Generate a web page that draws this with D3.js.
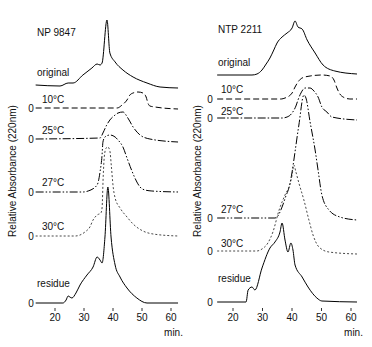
<!DOCTYPE html>
<html>
<head>
<meta charset="utf-8">
<script src="https://cdn.jsdelivr.net/npm/d3@7"></script>
<style>
  body { margin: 0; background: #fff; }
  text { font-family: "Liberation Sans", Arial, sans-serif; font-size: 10px; fill: #111; }
</style>
</head>
<body>
<svg id="chart" width="372" height="347"></svg>
<script>
// sample names and trace labels
let samples = ["NP 9847", "NTP 2211"]
let traces = ["original", "10°C", "25°C", "27°C", "30°C", "residue"]
let xTicks = [20, 30, 40, 50, 60]

// stacking offsets (absorbance units) of each trace baseline
let npOffsets = [215, 195, 164, 111, 67, 0]
let ntpOffsets = [228, 204, 185, 85, 52, 1]

// [minutes, relative absorbance]
let npOriginal = [[13.5,3],[21.9,2],[24.7,5],[26.4,5],[29.8,13],[32.9,20],[34.7,24],[35.7,23],[36.4,25],[38.1,68],[39.1,35],[40.9,26],[43.6,18],[47.1,11],[51.9,5],[56.4,1],[62.6,0]]
let np10 = [[13.5,0],[41.6,0],[43.3,3],[45.0,8],[46.0,13],[47.1,15],[48.8,16],[50.5,15],[51.6,11],[52.2,5],[52.9,2],[54.7,1],[62.6,-1]]
let np25 = [[13.5,0],[35.7,1],[36.7,6],[38.0,14],[39.1,19],[40.9,24],[41.9,26],[43.6,27],[45.3,21],[47.1,12],[49.5,4],[52.9,0],[62.6,-3]]
let np27 = [[13.5,0],[29.8,0],[31.6,1],[34.7,7],[35.7,20],[36.4,37],[36.7,50],[37.4,55],[39.1,57],[40.9,55],[41.9,52],[43.6,45],[45.0,34],[46.7,21],[48.4,10],[49.5,5],[51.2,2],[53.6,1],[62.6,0]]
let np30 = [[13.5,0],[27.1,0],[28.8,1],[30.5,4],[32.2,9],[33.3,16],[34.7,21],[36.0,23],[36.4,28],[36.8,60],[37.2,80],[37.8,88],[38.4,89],[39.1,85],[39.6,70],[40.2,50],[40.9,38],[42.6,28],[45.0,19],[47.1,12],[50.5,5],[54.0,2],[62.6,0]]
let npResidue = [[13.5,0],[22.9,0],[24.0,3],[24.7,7],[25.3,6],[26.0,5],[27.4,10],[28.8,18],[31.2,28],[33.3,36],[34.7,46],[35.7,43],[36.4,40],[37.4,66],[38.4,116],[39.5,66],[40.9,38],[42.6,26],[45.0,15],[48.4,5],[51.9,0],[62.6,0]]

let ntpOriginal = [[14.8,0],[26.6,0],[28.3,1],[30.0,5],[31.4,11],[32.7,17],[34.0,25],[35.1,32],[36.8,38],[38.5,42],[40.2,47],[41.2,54],[42.2,48],[43.6,46],[45.3,35],[48.0,22],[50.7,10],[54.7,4],[62.2,1]]
let ntp10 = [[14.8,0],[36.5,0],[37.8,1],[39.2,3],[40.2,6],[41.2,12],[42.2,17],[43.6,21],[46.3,23],[50.3,24],[53.1,23],[54.4,19],[55.4,11],[56.4,5],[57.5,2],[59.8,0],[62.2,0]]
let ntp25 = [[14.8,0],[36.8,0],[38.5,1],[40.2,5],[41.5,12],[42.2,18],[43.2,25],[44.6,30],[46.3,30],[47.6,27],[49.0,21],[50.3,11],[52.0,6],[53.7,1],[62.2,-2]]
let ntp27 = [[14.8,0],[34.4,0],[35.1,1],[36.8,11],[38.1,22],[39.2,31],[40.2,46],[40.8,58],[42.5,93],[44.2,123],[44.9,120],[46.3,96],[48.0,68],[49.0,48],[50.3,23],[52.7,8],[56.4,1],[62.2,-2]]
let ntp30 = [[14.8,0],[28.3,0],[30.0,2],[32.0,8],[33.7,19],[35.8,41],[37.8,56],[39.5,67],[40.2,76],[40.8,86],[41.5,79],[42.5,68],[44.2,51],[45.9,31],[47.3,16],[49.3,4],[52.7,-1],[62.2,-3]]
let ntpResidue = [[14.8,0],[24.6,0],[25.3,12],[26.6,15],[27.6,12],[30.0,34],[32.7,54],[34.4,60],[36.1,70],[36.8,79],[37.8,62],[38.8,50],[39.8,59],[40.5,52],[41.2,37],[43.6,25],[45.6,15],[48.6,4],[50.3,1],[62.2,0]]

let chart = d3.select("#chart")

// line styles per trace
let dashes = [null, "6,3", "8,2,1.5,2", "8,2,1.5,2,1.5,2", "2,2", null]
// label placement above each baseline
let labelDy = [[-12, -9], [-5, -6], [-5, -3], [-6, -5], [-6, -4], [-16, -20]]

let y = d3.scaleLinear().domain([0, 300]).range([303, 3])

let panels = [
  { name: samples[0], offsets: npOffsets, series: [npOriginal, np10, np25, np27, np30, npResidue],
    x: d3.scaleLinear().domain([20, 60]).range([54.5, 170.5]), left: 37, zeroX: 31, yLabelX: 12 },
  { name: samples[1], offsets: ntpOffsets, series: [ntpOriginal, ntp10, ntp25, ntp27, ntp30, ntpResidue],
    x: d3.scaleLinear().domain([20, 60]).range([232.5, 350.5]), left: 218, zeroX: 210, yLabelX: 197 }
]

let drawPanel = (p, pi) => {
  let g = chart.append("g")

  p.series.forEach((pts, i) => {
    let line = d3.line()
      .x(d => p.x(d[0]))
      .y(d => y(d[1] + p.offsets[i]))
      .curve(d3.curveMonotoneX)
    g.append("path")
      .attr("d", line(pts))
      .attr("fill", "none")
      .attr("stroke", i == 4 ? "#333" : "#000")
      .attr("stroke-width", i == 4 ? 0.9 : 1)
      .attr("stroke-dasharray", dashes[i])

    let lx = (i == 0 || i == 5) ? p.left : p.left + (pi == 0 ? 5 : 3)
    g.append("text")
      .attr("x", lx)
      .attr("y", y(p.offsets[i]) + labelDy[i][pi])
      .text(traces[i])

    if (i > 0) {
      g.append("text")
        .attr("x", p.zeroX)
        .attr("y", y(p.offsets[i]) + 3.5)
        .attr("text-anchor", "middle")
        .text("0")
    }
  })

  g.append("text")
    .attr("x", p.left)
    .attr("y", pi == 0 ? 36 : 33)
    .text(p.name)

  // x axis: ticks only, no domain line
  let axis = g.append("g")
    .attr("transform", "translate(0,308)")
    .call(d3.axisBottom(p.x).tickValues(xTicks).tickSize(3).tickPadding(3))
  axis.select(".domain").remove()
  axis.selectAll("line").attr("stroke", "#333")
  axis.selectAll("text").style("font-size", "10px").attr("fill", "#111")

  g.append("text")
    .attr("x", p.x(60) + 3)
    .attr("y", 336)
    .attr("text-anchor", "middle")
    .text("min.")

  g.append("text")
    .attr("transform", "translate(" + (p.yLabelX + 3.5) + ",171) rotate(-90)")
    .attr("text-anchor", "middle")
    .text("Relative Absorbance (220nm)")
}

panels.forEach(drawPanel)
</script>
</body>
</html>
